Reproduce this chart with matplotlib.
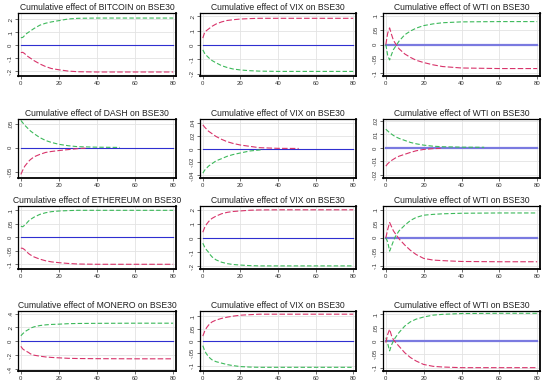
import matplotlib
matplotlib.use("Agg")
import matplotlib.pyplot as plt

plt.rcParams['font.family'] = ['Liberation Sans', 'DejaVu Sans']

# ---------------- data ----------------
h_std = [0, 1, 2, 3, 4, 5, 7, 10, 13, 16, 20, 25, 30, 40, 60, 80]

bitcoin_green = [.058, .060, .075, .09, .10, .11, .13, .155, .17, .18, .19, .203, .208, .21, .21, .21]
bitcoin_red = [-.057, -.055, -.065, -.08, -.09, -.10, -.12, -.145, -.165, -.18, -.19, -.20, -.205, -.207, -.207, -.207]

vix1_red = [.047, .088, .10, .11, .12, .13, .145, .16, .17, .175, .18, .183, .185, .185, .185, .185]
vix1_green = [-.035, -.06, -.075, -.088, -.10, -.11, -.125, -.145, -.158, -.168, -.175, -.18, -.183, -.185, -.185, -.185]

wti1_red = [0, .04, .058, .035, .015, .004, -.015, -.033, -.045, -.055, -.063, -.071, -.077, -.082, -.084, -.084]
wti1_green = [0, -.039, -.054, -.035, -.018, -.008, .012, .034, .047, .057, .066, .072, .076, .079, .08, .08]

dash_h_green = [0, 1, 2, 3, 4, 5, 7, 10, 13, 16, 20, 25, 30, 40, 52]
dash_green = [.057, .052, .047, .043, .039, .035, .029, .021, .015, .011, .007, .004, .002, .001, .0005]
dash_h_red = [0, 1, 2, 3, 4, 5, 7, 10, 13, 16, 20, 25, 30, 34]
dash_red = [-.056, -.047, -.039, -.034, -.029, -.025, -.019, -.014, -.010, -.008, -.006, -.004, -.002, -.001]

vix2_h_red = [0, 1, 2, 3, 4, 5, 7, 10, 13, 16, 20, 25, 30, 40, 51]
vix2_red = [.0366, .033, .030, .027, .025, .023, .019, .0146, .011, .0085, .006, .004, .002, .001, .0008]
vix2_h_green = [0, 1, 2, 3, 4, 5, 7, 10, 13, 16, 20, 25, 32]
vix2_green = [-.0366, -.032, -.029, -.026, -.024, -.022, -.018, -.0146, -.011, -.0085, -.006, -.003, -.001]

wti2_h_green = [0, 1, 2, 3, 4, 5, 7, 10, 13, 16, 20, 25, 30, 40, 52]
wti2_green = [.0138, .0125, .0112, .0102, .0092, .0083, .007, .0055, .004, .003, .002, .0012, .0008, .0005, .0004]
wti2_h_red = [0, 1, 2, 3, 4, 5, 7, 10, 13, 16, 20, 25, 29]
wti2_red = [-.0136, -.0118, -.0105, -.0094, -.0085, -.0076, -.0062, -.0048, -.0034, -.0022, -.0012, -.0006, -.0004]

eth_green = [.041, .039, .045, .052, .06, .066, .075, .085, .091, .095, .0975, .099, .1, .1, .1, .1]
eth_red = [-.04, -.041, -.046, -.053, -.06, -.065, -.073, -.081, -.087, -.091, -.094, -.097, -.099, -.1, -.1, -.1]

vix3_red = [.041, .075, .098, .115, .13, .14, .155, .172, .182, .188, .192, .197, .199, .2, .2, .2]
vix3_green = [-.037, -.065, -.085, -.10, -.12, -.135, -.155, -.172, -.182, -.188, -.192, -.196, -.198, -.198, -.198, -.198]

wti3_red = [0, .03, .055, .04, .025, .015, -.004, -.026, -.045, -.06, -.074, -.08, -.082, -.085, -.086, -.086]
wti3_green = [0, -.015, -.048, -.03, -.012, .004, .025, .045, .062, .073, .081, .084, .086, .088, .089, .089]

monero_green = [.08, .11, .135, .155, .17, .19, .21, .228, .238, .244, .248, .255, .258, .26, .262, .262]
monero_red = [-.072, -.11, -.13, -.145, -.16, -.18, -.2, -.214, -.225, -.232, -.238, -.245, -.248, -.25, -.252, -.252]

vix4_red = [.02, .04, .054, .064, .072, .078, .085, .092, .097, .101, .105, .107, .109, .109, .109, .109]
vix4_green = [-.019, -.04, -.053, -.063, -.071, -.077, -.084, -.09, -.096, -.1, -.104, -.106, -.107, -.107, -.107, -.107]

wti4_red = [-.006, .025, .044, .02, .005, -.004, -.02, -.044, -.062, -.075, -.088, -.095, -.0975, -.1, -.1, -.1]
wti4_green = [.0125, -.01, -.037, -.015, 0, .0125, .032, .056, .072, .082, .09, .097, .1, .103, .104, .104]

titles = [
    "Cumulative effect of BITCOIN on BSE30", "Cumulative effect of VIX on BSE30", "Cumulative effect of WTI on BSE30",
    "Cumulative effect of DASH on BSE30", "Cumulative effect of VIX on BSE30", "Cumulative effect of WTI on BSE30",
    "Cumulative effect of ETHEREUM on BSE30", "Cumulative effect of VIX on BSE30", "Cumulative effect of WTI on BSE30",
    "Cumulative effect of MONERO on BSE30", "Cumulative effect of VIX on BSE30", "Cumulative effect of WTI on BSE30",
]

yticks_list = [
    [-.2, -.1, 0, .1, .2], [-.2, -.1, 0, .1, .2], [-.1, -.05, 0, .05, .1],
    [-.05, 0, .05], [-.04, -.02, 0, .02, .04], [-.02, -.01, 0, .01, .02],
    [-.1, -.05, 0, .05, .1], [-.2, -.1, 0, .1, .2], [-.1, -.05, 0, .05, .1],
    [-.4, -.2, 0, .2, .4], [-.1, -.05, 0, .05, .1], [-.1, -.05, 0, .05, .1],
]
ylims = [
    (-.238, .249), (-.217, .222), (-.11, .11),
    (-.0634, .0599), (-.0439, .0454), (-.0224, .0214),
    (-.1175, .116), (-.22, .227), (-.112, .114),
    (-.428, .438), (-.122, .122), (-.1125, .1125),
]
xticks = [0, 20, 40, 60, 80]

series = [
    ((h_std, bitcoin_green), (h_std, bitcoin_red)),
    ((h_std, vix1_green), (h_std, vix1_red)),
    ((h_std, wti1_green), (h_std, wti1_red)),
    ((dash_h_green, dash_green), (dash_h_red, dash_red)),
    ((vix2_h_green, vix2_green), (vix2_h_red, vix2_red)),
    ((wti2_h_green, wti2_green), (wti2_h_red, wti2_red)),
    ((h_std, eth_green), (h_std, eth_red)),
    ((h_std, vix3_green), (h_std, vix3_red)),
    ((h_std, wti3_green), (h_std, wti3_red)),
    ((h_std, monero_green), (h_std, monero_red)),
    ((h_std, vix4_green), (h_std, vix4_red)),
    ((h_std, wti4_green), (h_std, wti4_red)),
]


def stata_fmt(v):
    if v == 0:
        return "0"
    s = ("%g" % v)
    s = s.replace("0.", ".")
    return s


# ---------------- layout ----------------
W, H = 550, 384
fig = plt.figure(figsize=(W / 100, H / 100), dpi=100)
fig.patch.set_facecolor("white")

col_lr = [(18, 176), (200, 356), (383, 540)]
row_tb = [(13, 76), (119, 178), (206, 269), (311, 371)]

GREEN = "#3cb95a"
RED = "#d8336a"
BLUE = "#2f2fd0"

for i in range(12):
    r, c = divmod(i, 3)
    l, rr = col_lr[c]
    t, b = row_tb[r]
    ax = fig.add_axes([l / W, 1 - b / H, (rr - l) / W, (b - t) / H])
    ax.set_xlim(-1.5, 81.5)
    ax.set_ylim(*ylims[i])
    ax.set_xticks(xticks)
    ax.set_yticks(yticks_list[i])
    ax.set_yticklabels([stata_fmt(v) for v in yticks_list[i]], rotation=90, va="center")
    ax.tick_params(axis="both", labelsize=4.3, length=2, width=0.5, pad=1.5, colors="#333333")
    ax.grid(True, color="#e3e3e3", lw=0.6)
    ax.set_axisbelow(True)
    for sp in ax.spines.values():
        sp.set_linewidth(0.9)
        sp.set_color("black")
    ax.spines["bottom"].set_linewidth(1.3)
    ax.spines["right"].set_linewidth(1.3)

    (hg, g), (hr, rd) = series[i]
    is_wti = (c == 2)
    ax.plot([h_std[0], h_std[-1]], [0, 0], color="#7a7ae0" if is_wti else BLUE,
            lw=1.6 if is_wti else 0.8, zorder=2)
    ax.plot(hg, g, color=GREEN, lw=0.8, dashes=(4, 2), zorder=3)
    ax.plot(hr, rd, color=RED, lw=0.8, dashes=(5, 2), zorder=3)
    ax.set_title(titles[i], fontsize=6.2, pad=2, color="#222222")

fig.savefig("out.png", dpi=100, facecolor="white")
